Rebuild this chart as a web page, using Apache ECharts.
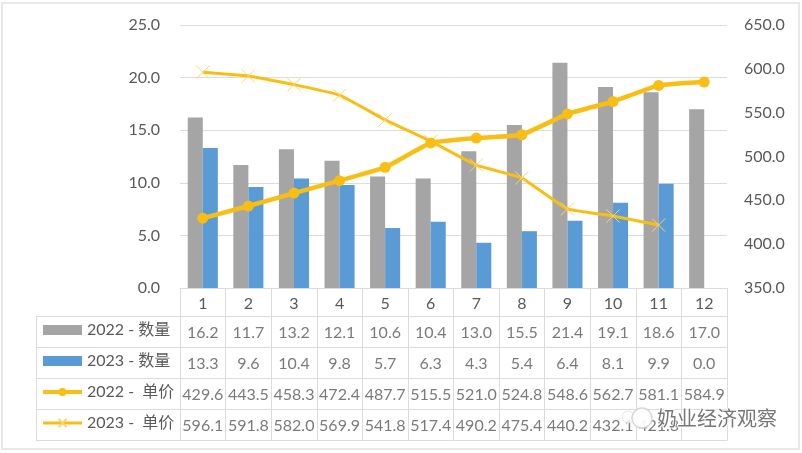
<!DOCTYPE html>
<html>
<head>
<meta charset="utf-8">
<style>html,body{margin:0;padding:0;background:#fff}#c{width:802px;height:453px}</style>
<script src="https://cdn.jsdelivr.net/npm/echarts@6/dist/echarts.min.js"></script>
</head>
<body>
<div id="c"></div>
<script>
const months = ['1','2','3','4','5','6','7','8','9','10','11','12'];
const qty2022 = [16.2,11.7,13.2,12.1,10.6,10.4,13.0,15.5,21.4,19.1,18.6,17.0];
const qty2023 = [13.3,9.6,10.4,9.8,5.7,6.3,4.3,5.4,6.4,8.1,9.9,0.0];
const price2022 = [429.6,443.5,458.3,472.4,487.7,515.5,521.0,524.8,548.6,562.7,581.1,584.9];
const price2023 = [596.1,591.8,582.0,569.9,541.8,517.4,490.2,475.4,440.2,432.1,421.8,null];
const names = ['2022 - 数量','2023 - 数量','2022 -  单价','2023 -  单价'];
const rows = [qty2022, qty2023, price2022, price2023];

const FONT = 'Lato, "Noto Sans CJK SC", sans-serif';
const TEXT = '#595959', RULE = '#DCDCDC', GOLD = '#F9BE14';

// Table cells are plotted as label-only points on a category/category grid.
const cells = [];
rows.forEach((r, ri) => r.forEach((v, ci) => {
  if (v !== null) cells.push([ci, ri, v.toFixed(1)]);
}));

const chart = echarts.init(document.getElementById('c'), null, {renderer: 'canvas'});
chart.setOption({
  animation: false,
  backgroundColor: '#fff',
  textStyle: {fontFamily: FONT},
  grid: [
    {left: 180, right: 75, top: 25, height: 263},
    {left: 180, right: 75, top: 316, height: 124}
  ],
  legend: {
    left: 41, top: 322, height: 160, padding: 0, orient: 'vertical',
    itemWidth: 39, itemHeight: 10, itemGap: 15,
    textStyle: {color: TEXT, fontSize: 16, fontFamily: FONT},
    data: [
      {name: names[0], icon: 'rect'}, {name: names[1], icon: 'rect'},
      {name: names[2], lineStyle: {width: 4}}, {name: names[3], lineStyle: {width: 3}}
    ]
  },
  xAxis: [
    {type: 'category', gridIndex: 0, data: months,
     axisLine: {lineStyle: {color: RULE}},
     axisTick: {show: true, length: 28, lineStyle: {color: RULE}},
     axisLabel: {color: TEXT, fontSize: 16, margin: 8}},
    {type: 'category', gridIndex: 1, position: 'top', data: months,
     axisLine: {show: true, lineStyle: {color: RULE}},
     axisTick: {show: false}, axisLabel: {show: false},
     splitLine: {show: true, interval: 0, lineStyle: {color: RULE}}}
  ],
  yAxis: [
    {type: 'value', gridIndex: 0, min: 0, max: 25, interval: 5,
     axisLine: {show: false}, axisTick: {show: false},
     axisLabel: {color: TEXT, fontSize: 16, margin: 20, padding: [3, 0, 0, 0], formatter: v => v.toFixed(1)},
     splitLine: {lineStyle: {color: RULE}}},
    {type: 'value', gridIndex: 0, position: 'right', min: 350, max: 650, interval: 50,
     axisLine: {show: false}, axisTick: {show: false},
     axisLabel: {color: TEXT, fontSize: 16, margin: 17, padding: [2, 0, 0, 0], formatter: v => v.toFixed(1)},
     splitLine: {show: false}},
    {type: 'category', gridIndex: 1, inverse: true, data: names,
     axisLine: {show: true, lineStyle: {color: RULE}},
     axisTick: {show: true, length: 144, interval: 0, lineStyle: {color: RULE}},
     axisLabel: {show: false},
     splitLine: {show: true, interval: 0, lineStyle: {color: RULE}}},
    {type: 'category', gridIndex: 1, position: 'left', offset: 144, inverse: true, data: names,
     axisLine: {show: true, lineStyle: {color: RULE}},
     axisTick: {show: false}, axisLabel: {show: false}, splitLine: {show: false}},
    {type: 'category', gridIndex: 1, position: 'right', inverse: true, data: names,
     axisLine: {show: true, lineStyle: {color: RULE}},
     axisTick: {show: false}, axisLabel: {show: false}, splitLine: {show: false}}
  ],
  series: [
    {name: names[0], type: 'bar', xAxisIndex: 0, yAxisIndex: 0, data: qty2022,
     barGap: 0, barCategoryGap: '34%', itemStyle: {color: '#A5A5A5'}},
    {name: names[1], type: 'bar', xAxisIndex: 0, yAxisIndex: 0, data: qty2023,
     itemStyle: {color: '#5B9BD5'}},
    {name: names[2], type: 'line', xAxisIndex: 0, yAxisIndex: 1, data: price2022,
     symbol: 'circle', symbolSize: 11, smooth: 0.1, z: 5,
     lineStyle: {color: GOLD, width: 4.5}, itemStyle: {color: GOLD}},
    {name: names[3], type: 'line', xAxisIndex: 0, yAxisIndex: 1, data: price2023,
     symbol: 'path://M1,1L19,19M19,1L1,19', symbolSize: 13, smooth: 0.1, z: 4,
     lineStyle: {color: GOLD, width: 3},
     itemStyle: {color: 'none', borderColor: '#FBD566', borderWidth: 1}},
    {name: 'table', type: 'scatter', xAxisIndex: 1, yAxisIndex: 2, data: cells,
     symbolSize: 0, silent: true,
     label: {show: true, position: 'inside', offset: [0, 1], color: TEXT, fontSize: 16,
       formatter: p => p.value[2]}}
  ],
  graphic: [
    {type: 'rect', silent: true, z: -1,
     shape: {x: 2, y: 3, width: 797, height: 446},
     style: {fill: 'none', stroke: '#E8E8E8', lineWidth: 2}},
    {type: 'circle', silent: true, z: 49, shape: {cx: 628, cy: 417, r: 6},
     style: {fill: '#fff', stroke: '#E0E0E0', lineWidth: 1, opacity: 0.8}},
    {type: 'circle', silent: true, z: 49, shape: {cx: 642, cy: 418, r: 10},
     style: {fill: '#fff', stroke: '#D4D4D4', lineWidth: 1.5, opacity: 0.9}},
    {type: 'text', silent: true, z: 50, x: 657, y: 408,
     style: {text: '奶业经济观察', fill: '#777777', font: '20px "Noto Sans CJK SC"',
       stroke: 'rgba(255,255,255,0.85)', lineWidth: 2}}
  ]
});
</script>
</body>
</html>
